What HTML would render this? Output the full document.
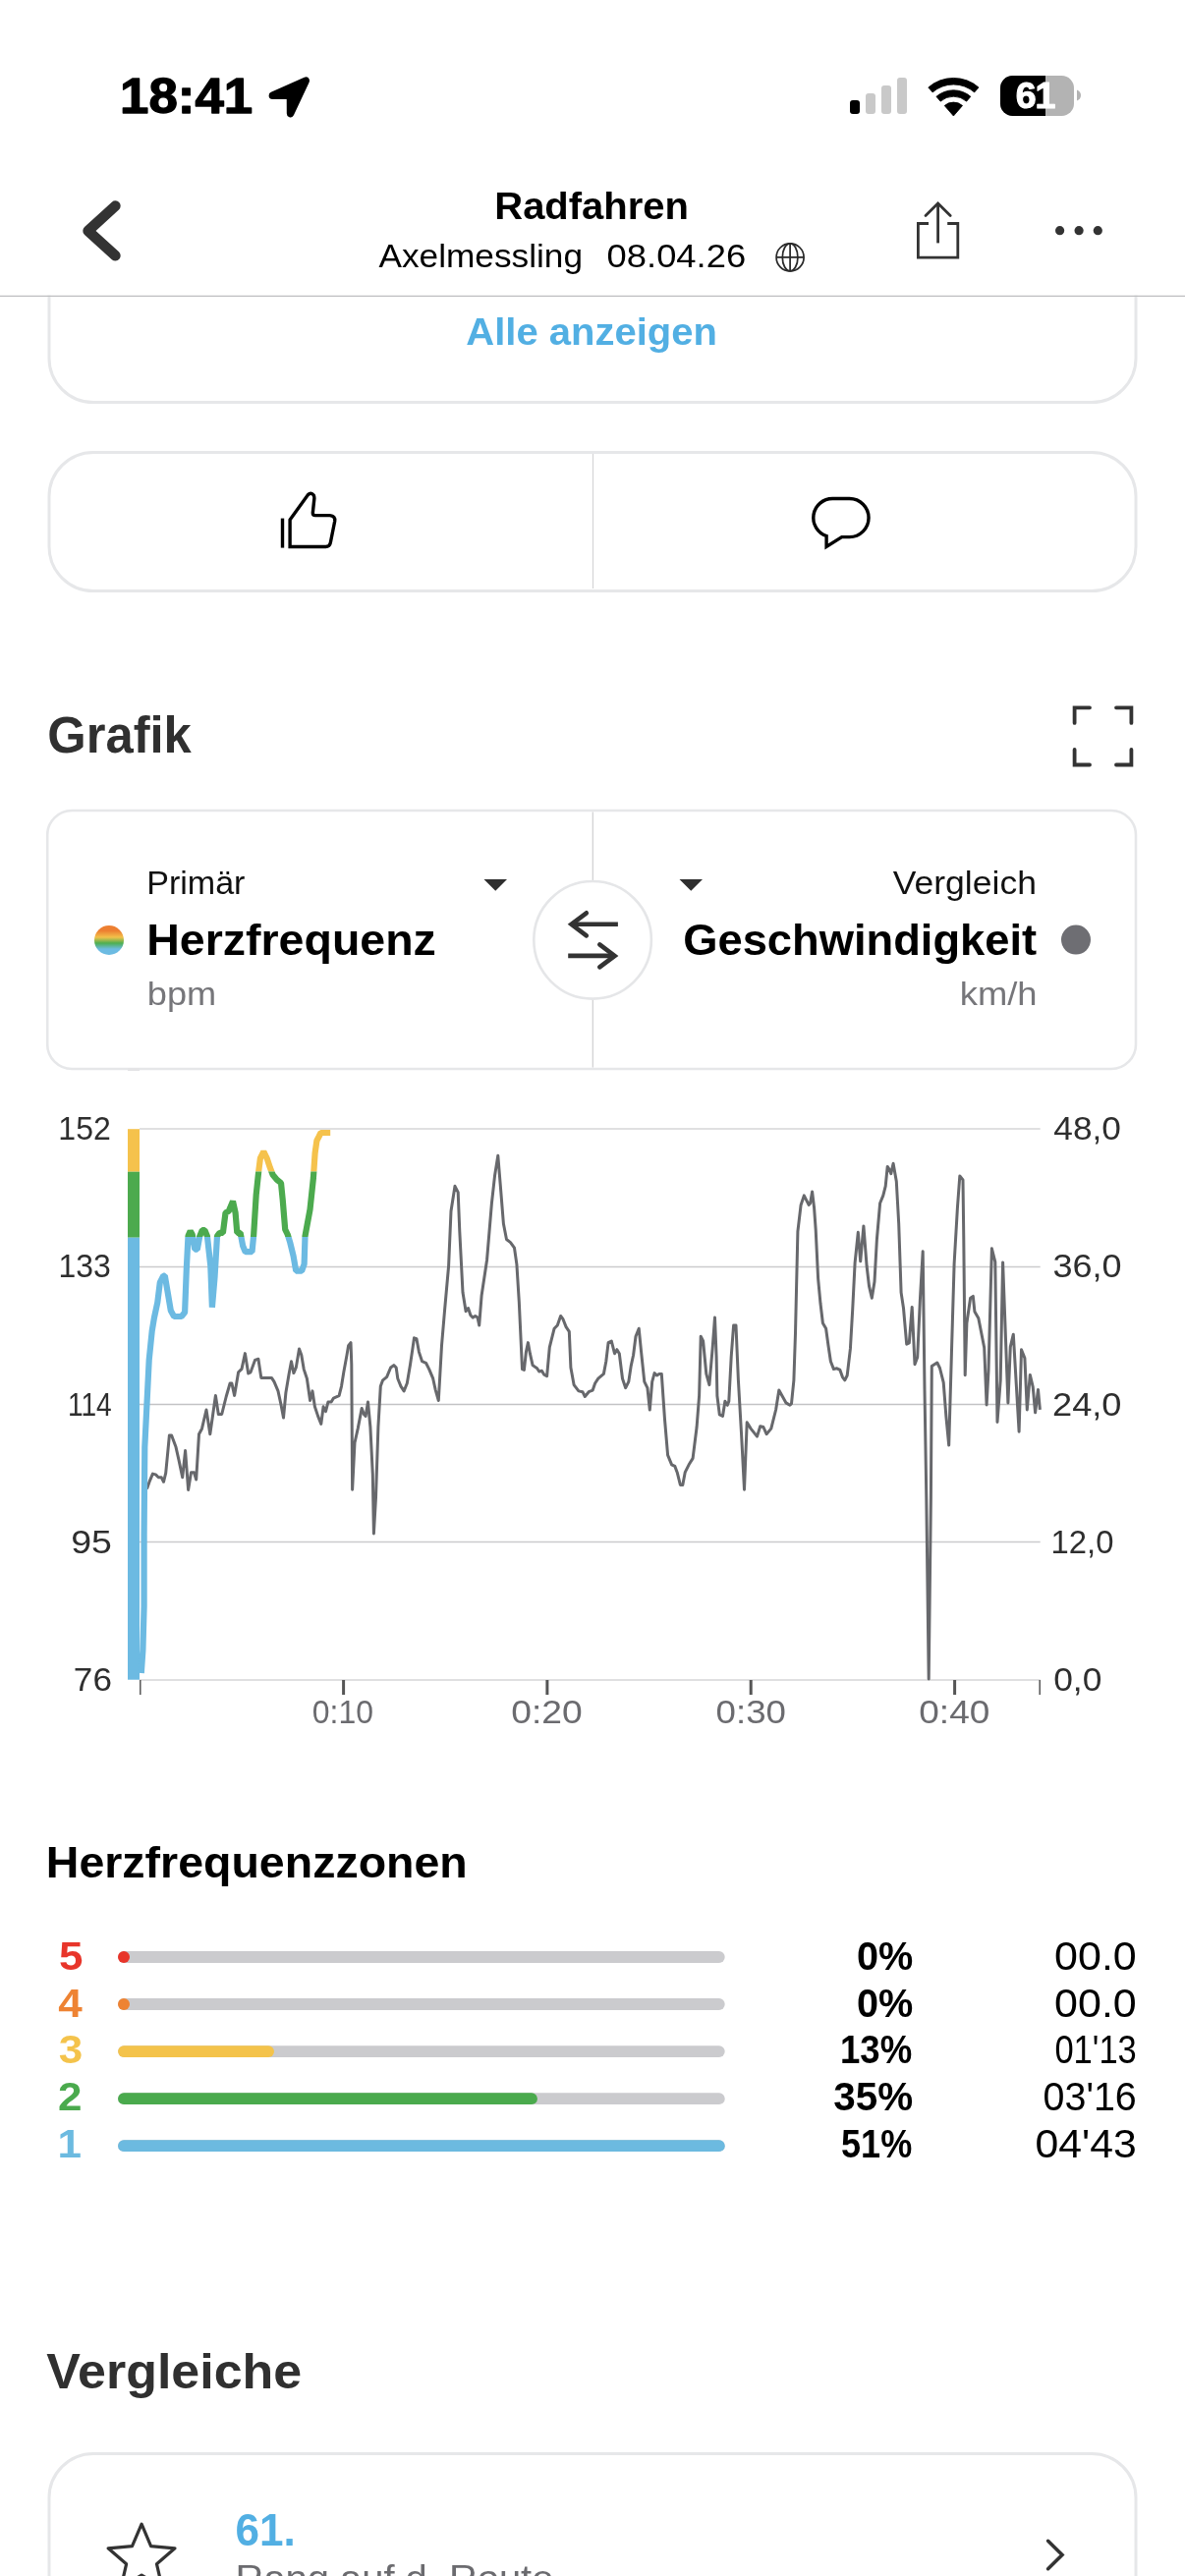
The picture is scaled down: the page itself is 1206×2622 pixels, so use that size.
<!DOCTYPE html>
<html lang="de"><head><meta charset="utf-8"><title>Radfahren</title>
<style>
html,body{margin:0;padding:0;background:#fff;}
body{width:1206px;height:2622px;overflow:hidden;position:relative;}
svg{display:block;position:absolute;left:0;top:0;will-change:transform;}
svg text{font-family:"Liberation Sans", Arial, sans-serif;}
</style></head><body>
<svg width="1206" height="2622" viewBox="0 0 1206 2622">
<rect x="50" y="230" width="1106" height="179.5" rx="45" fill="none" stroke="#e6e7e9" stroke-width="3"/>
<rect x="0" y="0" width="1206" height="300.6" fill="#fff"/>
<text x="122.10" y="115.4" font-size="49.5" font-weight="700" fill="#000" text-anchor="start"  stroke="#000" stroke-width="1.3" stroke-linejoin="round" textLength="135.07" lengthAdjust="spacingAndGlyphs" id="t_time">18:41</text>
<path d="M277.4 97.3 L311.2 82.1 L295.6 115.5 L295.5 97.3 Z" fill="#000" stroke="#000" stroke-width="7.6" stroke-linejoin="round"/>
<rect x="865" y="102" width="10" height="14" rx="3" fill="#000"/>
<rect x="881" y="95" width="10" height="21" rx="3" fill="#c9c9c9"/>
<rect x="897" y="87" width="10" height="29" rx="3" fill="#c9c9c9"/>
<rect x="913" y="79" width="10" height="37" rx="3" fill="#c9c9c9"/>
<g fill="#000" stroke="#000" stroke-width="0.8" stroke-linejoin="round"><path d="M949.14 93.95 L944.81 88.97 A39.0 39.0 0 0 1 995.99 88.97 L991.66 93.95 A32.4 32.4 0 0 0 949.14 93.95 Z"/><path d="M957.15 103.15 L952.95 98.32 A26.6 26.6 0 0 1 987.85 98.32 L983.65 103.15 A20.2 20.2 0 0 0 957.15 103.15 Z"/><path d="M970.4 118.0 L961.28 107.51 A13.9 13.9 0 0 1 979.52 107.51 Z"/></g>
<defs><clipPath id="batc"><rect x="1018" y="77" width="75" height="41" rx="12.5"/></clipPath></defs>
<g clip-path="url(#batc)"><rect x="1018" y="77" width="75" height="41" fill="#b3b3b3"/><rect x="1018" y="77" width="46" height="41" fill="#000"/></g>
<path d="M1096 91.5 Q1100 93 1100 97 Q1100 101 1096 102.5 Z" fill="#b3b3b3"/>
<text x="1053.50" y="110.2" font-size="37.5" font-weight="700" fill="#fff" text-anchor="middle" letter-spacing="-1.2" stroke="#fff" stroke-width="1.1" stroke-linejoin="round">61</text>
<path d="M117.4 209.6 L89.6 235 L117.4 260.2" fill="none" stroke="#333" stroke-width="10.6" stroke-linecap="round" stroke-linejoin="round"/>
<text x="503.26" y="222.7" font-size="39" font-weight="700" fill="#000" text-anchor="start"  textLength="197.78" lengthAdjust="spacingAndGlyphs" id="t_title">Radfahren</text>
<text x="385.50" y="272.4" font-size="34" font-weight="400" fill="#000" text-anchor="start"  textLength="207.51" lengthAdjust="spacingAndGlyphs" id="t_axel">Axelmessling</text>
<text x="617.60" y="272.4" font-size="34" font-weight="400" fill="#000" text-anchor="start"  textLength="141.56" lengthAdjust="spacingAndGlyphs" id="t_date">08.04.26</text>
<g fill="none" stroke="#2a2a2a" stroke-width="1.75"><circle cx="804.1" cy="261.9" r="14"/><ellipse cx="804.1" cy="261.9" rx="7.8" ry="14"/><line x1="804.1" y1="247.9" x2="804.1" y2="275.9"/><line x1="790.1" y1="261.9" x2="818.1" y2="261.9"/></g>
<g fill="none" stroke="#333" stroke-width="2.8"><path d="M945 227.5 H934.4 V262.2 H974.8 V227.5 H964.2"/><path d="M954.6 247.4 V207.5"/><path d="M942 219.5 L954.6 206.9 L967.2 219.5" stroke-linecap="round"/></g>
<circle cx="1078.6" cy="234.7" r="4.6" fill="#333"/>
<circle cx="1098.1" cy="234.7" r="4.6" fill="#333"/>
<circle cx="1117.3" cy="234.7" r="4.6" fill="#333"/>
<text x="474.28" y="351" font-size="38.5" font-weight="700" fill="#52afe3" text-anchor="start"  textLength="255.75" lengthAdjust="spacingAndGlyphs" id="t_alle">Alle anzeigen</text>
<rect x="50" y="460.5" width="1106" height="141" rx="45" fill="none" stroke="#e6e7e9" stroke-width="3"/>
<line x1="603.5" y1="462" x2="603.5" y2="599" stroke="#d4d4d6" stroke-width="1.2"/>
<g fill="none" stroke="#000" stroke-width="3.4"><path d="M287.5 527.6 V557.6"/><path d="M295.1 556.5 V529.1 L313.3 503.8 Q316.5 500.5 319.2 504 Q320 506 319.9 507 L318.3 522 Q318.3 524.6 320.8 524.6 H335.7 Q341.5 525.2 340.7 530.5 L336.3 552.5 Q335.5 556.5 331.5 556.5 Z" stroke-linejoin="miter"/></g>
<path d="M847.3 507.5 H864.5 A19.5 19.5 0 0 1 864.5 546.6 H856.7 L841.1 556.5 V545.5 A19.5 19.5 0 0 1 847.3 507.5 Z" fill="none" stroke="#000" stroke-width="3.4"/>
<line x1="0" y1="301.3" x2="1206" y2="301.3" stroke="#bebec0" stroke-width="1.3"/>
<text x="48.30" y="766.3" font-size="51" font-weight="700" fill="#303030" text-anchor="start"  textLength="146.51" lengthAdjust="spacingAndGlyphs" id="t_grafik">Grafik</text>
<g fill="none" stroke="#333" stroke-width="3.8" stroke-linecap="round"><path d="M1093.6 735.9 V720.3 H1109"/><path d="M1136 720.3 H1151.4 V735.9"/><path d="M1093.6 762.9 V778.5 H1109"/><path d="M1136 778.5 H1151.4 V762.9"/></g>
<rect x="48.2" y="825" width="1107.8" height="263" rx="25" fill="none" stroke="#e6e7e9" stroke-width="2.6"/>
<line x1="603.3" y1="826.5" x2="603.3" y2="1086.5" stroke="#cfcfd1" stroke-width="1.2"/>
<circle cx="603.1" cy="956.8" r="59.8" fill="#fff" stroke="#e5e6e8" stroke-width="2.6"/>
<g fill="none" stroke="#333" stroke-width="4.6" stroke-linecap="round"><path d="M628.9 940.8 H582" stroke-linecap="butt"/><path d="M596.8 929.3 L581.5 940.8 L596.8 952.3"/><path d="M578.2 972.9 H624.5" stroke-linecap="butt"/><path d="M610.3 961.4 L625.6 972.9 L610.3 984.4"/></g>
<path d="M492.5 895 H516 L504.25 906.8 Z" fill="#2e2e2e"/>
<path d="M691.5 895 H715 L703.25 906.8 Z" fill="#2e2e2e"/>
<defs><linearGradient id="rb" x1="0" y1="0" x2="0" y2="1"><stop offset="0.18" stop-color="#ed7f31"/><stop offset="0.4" stop-color="#f2c14a"/><stop offset="0.6" stop-color="#4daf50"/><stop offset="0.8" stop-color="#6cbbe2"/></linearGradient></defs>
<circle cx="111" cy="957" r="15" fill="url(#rb)"/>
<circle cx="1095" cy="956.6" r="15" fill="#6e6e73"/>
<text x="149.20" y="910.4" font-size="33" font-weight="400" fill="#111" text-anchor="start"  textLength="100.27" lengthAdjust="spacingAndGlyphs" id="t_prim">Primär</text>
<text x="149.20" y="971.6" font-size="45" font-weight="700" fill="#000" text-anchor="start"  textLength="294.66" lengthAdjust="spacingAndGlyphs" id="t_hf">Herzfrequenz</text>
<text x="149.80" y="1023" font-size="34" font-weight="400" fill="#76767a" text-anchor="start"  textLength="70.34" lengthAdjust="spacingAndGlyphs" id="t_bpm">bpm</text>
<text x="908.83" y="910.4" font-size="33" font-weight="400" fill="#111" text-anchor="start"  textLength="146.07" lengthAdjust="spacingAndGlyphs" id="t_verg">Vergleich</text>
<text x="695.21" y="971.6" font-size="45" font-weight="700" fill="#000" text-anchor="start"  textLength="359.99" lengthAdjust="spacingAndGlyphs" id="t_gesch">Geschwindigkeit</text>
<text x="976.71" y="1023" font-size="34" font-weight="400" fill="#76767a" text-anchor="start"  textLength="78.89" lengthAdjust="spacingAndGlyphs" id="t_kmh">km/h</text>
<rect x="130" y="1087.5" width="12" height="2.5" fill="#e4e4e6"/>
<line x1="142" y1="1149.0" x2="1058.7" y2="1149.0" stroke="#d6d6d7" stroke-width="1.5"/>
<line x1="142" y1="1289.4" x2="1058.7" y2="1289.4" stroke="#cbcbcd" stroke-width="1.5"/>
<line x1="142" y1="1429.5" x2="1058.7" y2="1429.5" stroke="#c3c3c5" stroke-width="1.5"/>
<line x1="142" y1="1569.6" x2="1058.7" y2="1569.6" stroke="#cbcbcd" stroke-width="1.5"/>
<line x1="142" y1="1709.9" x2="1058.7" y2="1709.9" stroke="#d6d6d7" stroke-width="1.5"/>
<line x1="142.8" y1="1710" x2="142.8" y2="1725" stroke="#555" stroke-width="1.5"/>
<line x1="349.6" y1="1710" x2="349.6" y2="1725" stroke="#555" stroke-width="3"/>
<line x1="556.9" y1="1710" x2="556.9" y2="1725" stroke="#555" stroke-width="3"/>
<line x1="764.2" y1="1710" x2="764.2" y2="1725" stroke="#555" stroke-width="3"/>
<line x1="971.6" y1="1710" x2="971.6" y2="1725" stroke="#555" stroke-width="3"/>
<line x1="1058.2" y1="1710" x2="1058.2" y2="1725" stroke="#555" stroke-width="1.5"/>
<text x="59.34" y="1160.0" font-size="33" font-weight="400" fill="#2e2e2e" text-anchor="start"  textLength="53.46" lengthAdjust="spacingAndGlyphs" id="t_yl0">152</text>
<text x="59.54" y="1300.4" font-size="33" font-weight="400" fill="#2e2e2e" text-anchor="start"  textLength="53.26" lengthAdjust="spacingAndGlyphs" id="t_yl1">133</text>
<text x="68.88" y="1440.5" font-size="33" font-weight="400" fill="#2e2e2e" text-anchor="start"  textLength="44.82" lengthAdjust="spacingAndGlyphs" id="t_yl2">114</text>
<text x="72.18" y="1580.6" font-size="33" font-weight="400" fill="#2e2e2e" text-anchor="start"  textLength="41.72" lengthAdjust="spacingAndGlyphs" id="t_yl3">95</text>
<text x="74.88" y="1720.9" font-size="33" font-weight="400" fill="#2e2e2e" text-anchor="start"  textLength="39.02" lengthAdjust="spacingAndGlyphs" id="t_yl4">76</text>
<text x="1072.30" y="1160.0" font-size="33" font-weight="400" fill="#2e2e2e" text-anchor="start"  textLength="68.63" lengthAdjust="spacingAndGlyphs" id="t_yr0">48,0</text>
<text x="1071.40" y="1300.4" font-size="33" font-weight="400" fill="#2e2e2e" text-anchor="start"  textLength="70.13" lengthAdjust="spacingAndGlyphs" id="t_yr1">36,0</text>
<text x="1071.00" y="1440.5" font-size="33" font-weight="400" fill="#2e2e2e" text-anchor="start"  textLength="70.53" lengthAdjust="spacingAndGlyphs" id="t_yr2">24,0</text>
<text x="1069.60" y="1580.6" font-size="33" font-weight="400" fill="#2e2e2e" text-anchor="start"  textLength="63.83" lengthAdjust="spacingAndGlyphs" id="t_yr3">12,0</text>
<text x="1072.20" y="1720.9" font-size="33" font-weight="400" fill="#2e2e2e" text-anchor="start"  textLength="49.18" lengthAdjust="spacingAndGlyphs" id="t_yr4">0,0</text>
<text x="317.78" y="1753.9" font-size="33" font-weight="400" fill="#6b6b6f" text-anchor="start"  textLength="62.23" lengthAdjust="spacingAndGlyphs" id="t_x0">0:10</text>
<text x="520.18" y="1753.9" font-size="33" font-weight="400" fill="#6b6b6f" text-anchor="start"  textLength="72.53" lengthAdjust="spacingAndGlyphs" id="t_x1">0:20</text>
<text x="728.58" y="1753.9" font-size="33" font-weight="400" fill="#6b6b6f" text-anchor="start"  textLength="71.33" lengthAdjust="spacingAndGlyphs" id="t_x2">0:30</text>
<text x="935.28" y="1753.9" font-size="33" font-weight="400" fill="#6b6b6f" text-anchor="start"  textLength="72.03" lengthAdjust="spacingAndGlyphs" id="t_x3">0:40</text>
<rect x="130" y="1149.2" width="12" height="43.5" fill="#f5c24c"/>
<rect x="130" y="1192.7" width="12" height="67" fill="#4caa4e"/>
<rect x="130" y="1259.7" width="12" height="450" fill="#6cbae2"/>
<polyline points="149.5,1515.6 152.5,1507.1 155.4,1500.1 158.4,1500.9 161.3,1503.8 164.3,1503.8 166.5,1508.3 168.7,1499.4 172.4,1461.0 174.6,1461.0 179.0,1472.8 182.0,1486.1 185.7,1503.8 188.6,1476.5 191.6,1516.4 194.5,1498.7 197.5,1498.7 199.7,1506.0 202.5,1459.8 205.5,1454.2 210.0,1435.0 213.8,1459.8 216.7,1439.5 219.4,1420.4 222.3,1439.5 225.7,1439.5 230.2,1421.5 234.1,1408.0 235.9,1408.0 238.6,1420.4 242.6,1396.8 246.0,1393.4 249.4,1377.6 252.7,1397.9 255.0,1396.8 259.5,1384.4 262.9,1383.2 265.8,1402.4 269.6,1402.4 276.4,1402.4 279.0,1406.4 283.0,1415.9 286.1,1430.3 288.5,1443.0 290.9,1417.5 294.1,1398.4 296.5,1385.7 298.9,1397.6 301.3,1392.0 304.5,1372.9 306.8,1379.3 309.2,1393.6 312.4,1403.2 315.6,1425.5 318.0,1415.9 320.4,1431.8 323.6,1441.4 326.8,1449.4 329.1,1431.8 331.5,1436.6 333.9,1427.1 337.1,1427.1 339.5,1423.1 345.1,1420.7 347.5,1411.1 349.8,1396.8 353.0,1379.3 354.6,1369.7 357.0,1366.6 357.8,1388.9 358.6,1516.2 361.0,1468.5 364.2,1454.1 368.2,1433.4 370.5,1439.8 372.1,1441.4 374.5,1427.1 376.9,1452.5 379.3,1500.3 380.4,1561.0 382.5,1524.2 384.9,1452.5 387.3,1411.1 389.6,1404.8 393.6,1401.6 397.6,1392.0 400.8,1389.6 403.2,1392.0 404.8,1403.2 408.0,1411.1 411.1,1415.9 414.3,1408.0 417.5,1388.9 419.9,1372.9 421.5,1361.8 423.9,1362.6 426.4,1376.1 429.6,1385.7 433.5,1387.3 436.7,1393.6 440.7,1403.2 443.1,1414.3 446.3,1425.5 449.5,1369.7 452.6,1333.1 456.6,1288.5 459.0,1232.8 463.0,1207.3 466.2,1213.7 467.8,1253.5 471.0,1315.6 474.1,1334.7 476.5,1331.5 478.9,1338.7 481.3,1341.1 483.7,1339.5 486.1,1341.1 487.7,1349.0 490.1,1318.8 495.6,1282.2 500.4,1224.8 503.6,1196.2 506.8,1176.3 509.2,1205.7 512.4,1245.5 515.5,1261.5 519.5,1264.6 523.5,1270.2 525.9,1286.9 528.3,1325.2 531.5,1393.6 533.4,1394.4 535.4,1376.1 537.4,1366.6 539.4,1377.7 542.1,1389.6 546.6,1392.8 548.7,1396.0 551.4,1395.2 553.8,1399.2 556.6,1400.8 559.3,1371.3 564.1,1352.2 567.3,1349.0 570.6,1339.5 573.0,1342.7 576.1,1350.6 579.3,1355.4 580.9,1392.0 584.1,1409.6 588.9,1415.9 592.9,1416.7 595.3,1421.5 599.2,1416.7 603.2,1415.1 605.6,1408.0 608.8,1403.2 614.4,1398.4 616.8,1385.7 619.1,1366.6 622.3,1365.0 625.5,1377.7 627.9,1373.7 630.3,1377.7 633.5,1403.2 636.7,1412.7 639.8,1406.4 642.2,1390.4 644.6,1379.3 647.0,1360.2 650.2,1352.2 652.6,1376.1 655.8,1406.4 658.9,1412.7 661.3,1435.0 663.7,1406.4 666.1,1397.6 668.5,1400.0 670.9,1398.4 673.3,1398.4 676.5,1444.6 679.6,1481.2 683.6,1490.8 686.8,1492.4 689.2,1498.7 692.4,1511.5 694.8,1511.5 697.2,1498.7 701.1,1490.8 705.1,1484.4 709.1,1452.5 711.6,1420.7 713.2,1360.2 715.6,1365.0 718.8,1398.4 721.9,1409.6 725.1,1372.9 727.5,1341.1 729.1,1380.9 729.9,1420.7 732.3,1439.8 735.5,1441.4 737.9,1426.3 740.3,1430.3 741.8,1426.3 744.2,1380.9 746.6,1349.0 749.0,1349.0 751.4,1404.8 754.6,1460.5 757.5,1516.2 760.2,1447.8 764.1,1454.1 770.5,1462.1 773.7,1451.8 776.9,1452.5 780.1,1459.7 784.8,1454.1 789.6,1435.0 792.8,1415.1 796.0,1420.7 800.0,1427.9 803.9,1430.3 805.5,1428.7 807.9,1404.8 809.5,1357.0 811.9,1253.5 815.1,1226.4 818.3,1216.9 820.7,1221.7 823.1,1226.4 824.6,1224.8 826.6,1212.9 828.6,1229.6 830.2,1251.9 832.6,1301.3 835.0,1326.8 837.4,1346.7 840.6,1352.2 843.0,1369.7 845.4,1385.7 848.5,1393.6 851.7,1392.8 854.9,1394.4 857.4,1401.6 859.8,1404.8 862.2,1400.0 865.4,1372.9 867.7,1333.1 870.1,1285.4 873.3,1254.3 875.7,1283.8 878.9,1247.9 882.1,1288.5 884.5,1309.2 887.3,1321.2 890.0,1304.5 892.4,1261.5 895.6,1224.8 898.8,1216.9 901.2,1207.3 903.2,1187.4 905.2,1190.6 906.8,1194.6 909.1,1184.2 912.3,1202.5 914.7,1245.5 917.1,1315.6 919.5,1331.5 922.7,1368.2 925.3,1366.9 928.2,1330.4 931.0,1388.8 933.7,1381.5 936.4,1323.0 939.2,1273.7 941.0,1414.4 942.8,1524.0 945.2,1709.0 947.4,1524.0 948.3,1390.6 953.8,1387.0 956.5,1392.5 960.2,1407.1 962.9,1441.8 965.7,1471.0 968.4,1377.9 971.1,1286.5 974.4,1229.6 976.8,1197.0 980.0,1201.0 980.8,1261.5 982.2,1399.8 983.9,1346.8 987.6,1321.2 990.3,1319.4 991.9,1334.9 995.8,1341.7 1001.7,1371.7 1004.1,1430.0 1006.0,1395.0 1009.4,1270.8 1012.8,1284.4 1015.0,1447.5 1018.2,1404.8 1020.6,1284.9 1025.9,1428.0 1028.3,1370.8 1031.3,1358.2 1037.1,1457.2 1039.5,1373.7 1042.9,1382.4 1045.3,1434.9 1048.3,1399.4 1051.2,1411.6 1053.6,1437.8 1056.5,1414.5 1058.4,1434.9" fill="none" stroke="#67686c" stroke-width="3" stroke-linejoin="round"/>
<defs><clipPath id="cy"><rect x="0" y="1149.2" width="1206" height="43.2"/></clipPath><clipPath id="cg"><rect x="0" y="1192.4" width="1206" height="66.7"/></clipPath><clipPath id="cb"><rect x="0" y="1259.1" width="1206" height="460"/></clipPath></defs>
<polyline clip-path="url(#cy)" points="143.8,1703.0 145.4,1679.5 146.6,1635.2 146.6,1561.4 147.3,1472.8 149.5,1428.6 151.7,1384.3 154.7,1354.8 156.9,1341.5 160.3,1325.7 162.8,1305.4 166.2,1298.6 167.8,1298.6 170.4,1313.8 173.8,1334.1 177.1,1340.0 184.7,1340.0 188.1,1335.8 189.8,1291.9 191.5,1258.1 193.7,1253.1 195.7,1256.5 198.2,1271.6 200.8,1271.6 203.3,1258.1 205.8,1252.2 208.4,1252.2 210.9,1258.1 214.3,1288.5 215.9,1330.7 218.5,1300.3 221.0,1258.1 223.5,1254.8 226.9,1254.8 229.5,1234.5 232.8,1232.8 237.0,1222.7 239.6,1234.5 241.3,1254.8 244.6,1254.8 247.2,1268.3 249.7,1274.2 256.5,1274.2 258.1,1258.1 260.7,1216.0 263.2,1192.3 264.9,1178.8 268.3,1172.1 271.6,1178.8 275.0,1188.9 277.6,1195.7 281.8,1200.8 286.0,1204.1 287.7,1221.0 290.2,1251.4 292.7,1256.5 295.3,1264.9 298.6,1278.4 301.2,1293.6 307.1,1293.6 309.6,1286.8 310.5,1258.1 315.5,1231.1 318.9,1199.1 320.6,1173.8 322.4,1161.0 324.5,1157.0 326.5,1153.0 336.2,1153.0" fill="none" stroke="#f5c24c" stroke-width="6.2" stroke-linejoin="bevel"/>
<polyline clip-path="url(#cg)" points="143.8,1703.0 145.4,1679.5 146.6,1635.2 146.6,1561.4 147.3,1472.8 149.5,1428.6 151.7,1384.3 154.7,1354.8 156.9,1341.5 160.3,1325.7 162.8,1305.4 166.2,1298.6 167.8,1298.6 170.4,1313.8 173.8,1334.1 177.1,1340.0 184.7,1340.0 188.1,1335.8 189.8,1291.9 191.5,1258.1 193.7,1253.1 195.7,1256.5 198.2,1271.6 200.8,1271.6 203.3,1258.1 205.8,1252.2 208.4,1252.2 210.9,1258.1 214.3,1288.5 215.9,1330.7 218.5,1300.3 221.0,1258.1 223.5,1254.8 226.9,1254.8 229.5,1234.5 232.8,1232.8 237.0,1222.7 239.6,1234.5 241.3,1254.8 244.6,1254.8 247.2,1268.3 249.7,1274.2 256.5,1274.2 258.1,1258.1 260.7,1216.0 263.2,1192.3 264.9,1178.8 268.3,1172.1 271.6,1178.8 275.0,1188.9 277.6,1195.7 281.8,1200.8 286.0,1204.1 287.7,1221.0 290.2,1251.4 292.7,1256.5 295.3,1264.9 298.6,1278.4 301.2,1293.6 307.1,1293.6 309.6,1286.8 310.5,1258.1 315.5,1231.1 318.9,1199.1 320.6,1173.8 322.4,1161.0 324.5,1157.0 326.5,1153.0 336.2,1153.0" fill="none" stroke="#4caa4e" stroke-width="6.2" stroke-linejoin="bevel"/>
<polyline clip-path="url(#cb)" points="143.8,1703.0 145.4,1679.5 146.6,1635.2 146.6,1561.4 147.3,1472.8 149.5,1428.6 151.7,1384.3 154.7,1354.8 156.9,1341.5 160.3,1325.7 162.8,1305.4 166.2,1298.6 167.8,1298.6 170.4,1313.8 173.8,1334.1 177.1,1340.0 184.7,1340.0 188.1,1335.8 189.8,1291.9 191.5,1258.1 193.7,1253.1 195.7,1256.5 198.2,1271.6 200.8,1271.6 203.3,1258.1 205.8,1252.2 208.4,1252.2 210.9,1258.1 214.3,1288.5 215.9,1330.7 218.5,1300.3 221.0,1258.1 223.5,1254.8 226.9,1254.8 229.5,1234.5 232.8,1232.8 237.0,1222.7 239.6,1234.5 241.3,1254.8 244.6,1254.8 247.2,1268.3 249.7,1274.2 256.5,1274.2 258.1,1258.1 260.7,1216.0 263.2,1192.3 264.9,1178.8 268.3,1172.1 271.6,1178.8 275.0,1188.9 277.6,1195.7 281.8,1200.8 286.0,1204.1 287.7,1221.0 290.2,1251.4 292.7,1256.5 295.3,1264.9 298.6,1278.4 301.2,1293.6 307.1,1293.6 309.6,1286.8 310.5,1258.1 315.5,1231.1 318.9,1199.1 320.6,1173.8 322.4,1161.0 324.5,1157.0 326.5,1153.0 336.2,1153.0" fill="none" stroke="#6cbae2" stroke-width="6.2" stroke-linejoin="bevel"/>
<text x="46.80" y="1910.5" font-size="45" font-weight="700" fill="#000" text-anchor="start"  textLength="428.95" lengthAdjust="spacingAndGlyphs" id="t_hfz">Herzfrequenzzonen</text>
<text x="72.2" y="2004.7" font-size="40" font-weight="700" fill="#e8352a" text-anchor="middle" transform="translate(72.2 0) scale(1.1 1) translate(-72.2 0)">5</text>
<line x1="126" y1="1992.0" x2="731.8" y2="1992.0" stroke="#cbcbce" stroke-width="11.8" stroke-linecap="round"/>
<circle cx="126" cy="1992.0" r="6" fill="#e8352a"/>
<text x="871.99" y="2004.7" font-size="40" font-weight="700" fill="#000" text-anchor="start"  textLength="57.31" lengthAdjust="spacingAndGlyphs" id="t_zp0">0%</text>
<text x="1073.14" y="2004.7" font-size="40" font-weight="400" fill="#000" text-anchor="start"  textLength="83.66" lengthAdjust="spacingAndGlyphs" id="t_zt0">00.0</text>
<text x="71.5" y="2052.6" font-size="40" font-weight="700" fill="#ee8333" text-anchor="middle" transform="translate(71.5 0) scale(1.1 1) translate(-71.5 0)">4</text>
<line x1="126" y1="2040.0" x2="731.8" y2="2040.0" stroke="#cbcbce" stroke-width="11.8" stroke-linecap="round"/>
<circle cx="126" cy="2040.0" r="6" fill="#ee8333"/>
<text x="871.99" y="2052.55" font-size="40" font-weight="700" fill="#000" text-anchor="start"  textLength="57.31" lengthAdjust="spacingAndGlyphs" id="t_zp1">0%</text>
<text x="1073.14" y="2052.55" font-size="40" font-weight="400" fill="#000" text-anchor="start"  textLength="83.66" lengthAdjust="spacingAndGlyphs" id="t_zt1">00.0</text>
<text x="72.0" y="2100.4" font-size="40" font-weight="700" fill="#f4c34b" text-anchor="middle" transform="translate(72.0 0) scale(1.1 1) translate(-72.0 0)">3</text>
<line x1="126" y1="2088.1" x2="731.8" y2="2088.1" stroke="#cbcbce" stroke-width="11.8" stroke-linecap="round"/>
<line x1="126" y1="2088.1" x2="273.1" y2="2088.1" stroke="#f4c34b" stroke-width="11.8" stroke-linecap="round"/>
<text x="855.04" y="2100.4" font-size="40" font-weight="700" fill="#000" text-anchor="start"  textLength="73.16" lengthAdjust="spacingAndGlyphs" id="t_zp2">13%</text>
<text x="1073.38" y="2100.4" font-size="40" font-weight="400" fill="#000" text-anchor="start"  textLength="83.43" lengthAdjust="spacingAndGlyphs" id="t_zt2">01'13</text>
<text x="71.3" y="2148.2" font-size="40" font-weight="700" fill="#4aaa4d" text-anchor="middle" transform="translate(71.3 0) scale(1.1 1) translate(-71.3 0)">2</text>
<line x1="126" y1="2136.2" x2="731.8" y2="2136.2" stroke="#cbcbce" stroke-width="11.8" stroke-linecap="round"/>
<line x1="126" y1="2136.2" x2="541.0" y2="2136.2" stroke="#4aaa4d" stroke-width="11.8" stroke-linecap="round"/>
<text x="848.34" y="2148.25" font-size="40" font-weight="700" fill="#000" text-anchor="start"  textLength="80.96" lengthAdjust="spacingAndGlyphs" id="t_zp3">35%</text>
<text x="1061.57" y="2148.25" font-size="40" font-weight="400" fill="#000" text-anchor="start"  textLength="95.23" lengthAdjust="spacingAndGlyphs" id="t_zt3">03'16</text>
<text x="70.8" y="2196.1" font-size="40" font-weight="700" fill="#6cbae0" text-anchor="middle" transform="translate(70.8 0) scale(1.1 1) translate(-70.8 0)">1</text>
<line x1="126" y1="2184.2" x2="731.8" y2="2184.2" stroke="#cbcbce" stroke-width="11.8" stroke-linecap="round"/>
<line x1="126" y1="2184.2" x2="731.8" y2="2184.2" stroke="#6cbae0" stroke-width="11.8" stroke-linecap="round"/>
<text x="856.04" y="2196.1" font-size="40" font-weight="700" fill="#000" text-anchor="start"  textLength="72.16" lengthAdjust="spacingAndGlyphs" id="t_zp4">51%</text>
<text x="1053.57" y="2196.1" font-size="40" font-weight="400" fill="#000" text-anchor="start"  textLength="103.23" lengthAdjust="spacingAndGlyphs" id="t_zt4">04'43</text>
<text x="47.30" y="2430.6" font-size="50" font-weight="700" fill="#303030" text-anchor="start"  textLength="259.86" lengthAdjust="spacingAndGlyphs" id="t_vgl">Vergleiche</text>
<rect x="50" y="2497.5" width="1106" height="200" rx="45" fill="none" stroke="#e6e7e9" stroke-width="3"/>
<polygon points="144.1,2569.1 153.6,2591.7 178.0,2593.8 159.5,2609.8 165.0,2633.7 144.1,2621.0 123.1,2633.7 128.6,2609.8 110.1,2593.8 134.5,2591.7" fill="none" stroke="#333" stroke-width="3.2" stroke-linejoin="round"/>
<text x="239.60" y="2591.4" font-size="45.5" font-weight="700" fill="#52afe3" text-anchor="start"  textLength="61.27" lengthAdjust="spacingAndGlyphs" id="t_61">61.</text>
<text x="239.60" y="2636.5" font-size="36" font-weight="400" fill="#6b6b6f" text-anchor="start"  textLength="323.80" lengthAdjust="spacingAndGlyphs" id="t_rang">Rang auf d. Route</text>
<path d="M1066.6 2586.3 L1081 2600.5 L1066.6 2614.7" fill="none" stroke="#333" stroke-width="3.6" stroke-linecap="round" stroke-linejoin="miter"/>
</svg>
</body></html>
